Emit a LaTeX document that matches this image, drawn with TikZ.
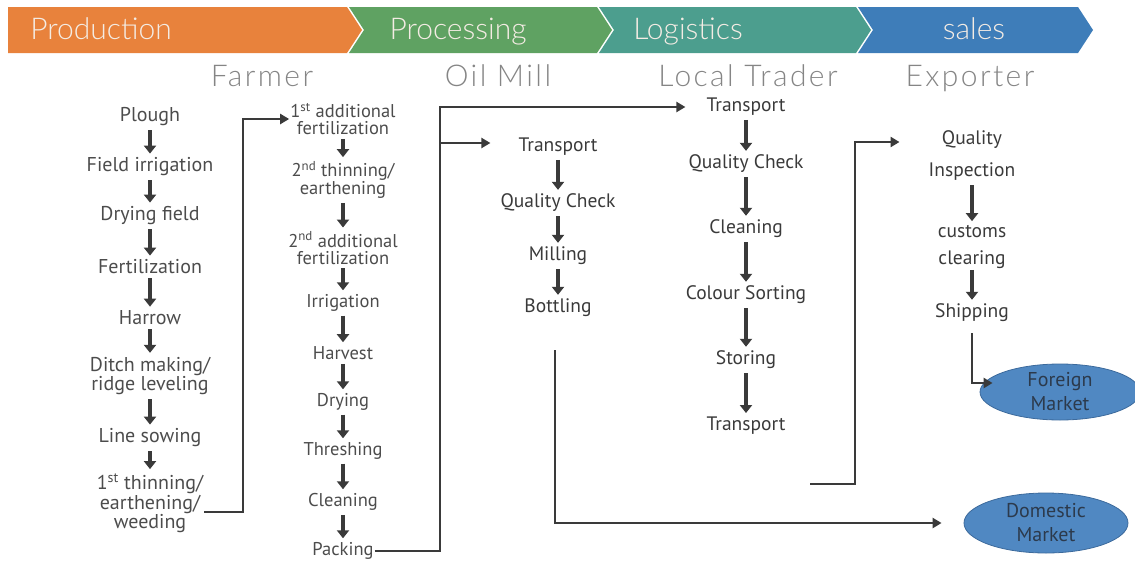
\documentclass[tikz,border=0pt]{standalone}
\usepackage{fontspec}
\setmainfont{PT Sans}
\newfontfamily\headfont{Lato Light}
\newfontfamily\actorfont{Lato Light}[LetterSpace=8]
\usetikzlibrary{arrows.meta,shapes.geometric}
\definecolor{prodorange}{HTML}{E8823C}
\definecolor{procgreen}{HTML}{5FA262}
\definecolor{logteal}{HTML}{4C9E8E}
\definecolor{salesblue}{HTML}{3E7DB9}
\definecolor{bartext}{HTML}{F4ECE4}
\definecolor{actorgray}{HTML}{858585}
\definecolor{ink}{HTML}{3A3A3A}
\definecolor{farmink}{HTML}{4C4C4C}
\definecolor{marketfill}{HTML}{5088C2}
\definecolor{marketedge}{HTML}{3C6A9C}
\definecolor{markettext}{HTML}{2C3A4C}

\begin{document}
\begin{tikzpicture}[x=1pt,y=-1pt,
  stagelabel/.style={text=bartext, inner sep=0pt, anchor=base, font=\headfont\fontsize{30}{32}\selectfont},
  actor/.style={text=actorgray, inner sep=0pt, anchor=base, font=\actorfont\fontsize{30}{32}\selectfont},
  farmstep/.style={text=farmink, align=center, inner sep=1pt, font=\fontsize{20}{15.5}\selectfont},
  cropstep/.style={text=farmink, align=center, inner sep=1pt, font=\fontsize{18.5}{17}\selectfont},
  chainstep/.style={text=ink, align=center, inner sep=1pt, font=\fontsize{19.5}{19}\selectfont},
  varrow/.style={-{Triangle[length=8pt,width=12pt]}, line width=3.4pt, draw=ink, shorten <=3pt, shorten >=3pt},
  conn/.style={-{Triangle[length=9pt,width=10pt]}, line width=2.6pt, draw=ink},
  market/.style={ellipse, fill=marketfill, draw=marketedge, line width=0.8pt, inner sep=0pt,
    text=markettext, align=center, font=\fontsize{20}{24}\selectfont}
]
\useasboundingbox (0,0) rectangle (1135,565);

% stage bar
\fill[prodorange] (8,7) -- (347,7) -- (362,30) -- (347,53) -- (8,53) -- cycle;
\fill[procgreen] (349,7) -- (597,7) -- (612,30) -- (597,53) -- (349,53) -- (364,30) -- cycle;
\fill[logteal] (599,7) -- (856,7) -- (871,30) -- (856,53) -- (599,53) -- (614,30) -- cycle;
\fill[salesblue] (858,7) -- (1078,7) -- (1093,30) -- (1078,53) -- (858,53) -- (873,30) -- cycle;
\node[stagelabel] (sprod) at (101,39) {Production};
\node[stagelabel] (sproc) at (458,39) {Processing};
\node[stagelabel] (slog) at (688,39) {Logistics};
\node[stagelabel] (ssales) at (974,39) {sales};

% actors
\node[actor] (farmer) at (262,86) {Farmer};
\node[actor] (mill) at (498,86) {Oil Mill};
\node[actor] (trader) at (748,86) {Local Trader};
\node[actor] (exporter) at (970,86) {Exporter};

% farmer: field preparation and sowing
\node[farmstep] (f1) at (150,117) {Plough};
\node[farmstep] (f2) at (150,167) {Field irrigation};
\node[farmstep] (f3) at (150,216) {Drying field};
\node[farmstep] (f4) at (150,267) {Fertilization};
\node[farmstep] (f5) at (150,318) {Harrow};
\node[farmstep] (f6) at (150,376) {Ditch making/\\ridge leveling};
\node[farmstep] (f7) at (150,438) {Line sowing};
\node[farmstep] (f8) at (150,503) {1\textsuperscript{st} thinning/\\earthening/\\weeding};
\foreach \a/\b in {f1/f2,f2/f3,f3/f4,f4/f5,f5/f6,f6/f7,f7/f8}
  \draw[varrow] (\a) -- (\b);

% farmer: crop care and harvest
\node[cropstep] (c1) at (343,119) {1\textsuperscript{st} additional\\fertilization};
\node[cropstep] (c2) at (343,180) {2\textsuperscript{nd} thinning/\\earthening};
\node[cropstep] (c3) at (343,248) {2\textsuperscript{nd} additional\\fertilization};
\node[cropstep] (c4) at (343,303) {Irrigation};
\node[cropstep] (c5) at (343,353) {Harvest};
\node[cropstep] (c6) at (343,402) {Drying};
\node[cropstep] (c7) at (343,451) {Threshing};
\node[cropstep] (c8) at (343,502) {Cleaning};
\node[cropstep] (c9) at (343,551) {Packing};
\foreach \a/\b in {c1/c2,c2/c3,c3/c4,c4/c5,c5/c6,c6/c7,c7/c8,c8/c9}
  \draw[varrow] (\a) -- (\b);

% oil mill
\node[chainstep] (m1) at (558,147) {Transport};
\node[chainstep] (m2) at (558,203) {Quality Check};
\node[chainstep] (m3) at (558,256) {Milling};
\node[chainstep] (m4) at (558,308) {Bottling};
\foreach \a/\b in {m1/m2,m2/m3,m3/m4}
  \draw[varrow] (\a) -- (\b);

% local trader
\node[chainstep] (t1) at (746,107) {Transport};
\node[chainstep] (t2) at (746,164) {Quality Check};
\node[chainstep] (t3) at (746,229) {Cleaning};
\node[chainstep] (t4) at (746,295) {Colour Sorting};
\node[chainstep] (t5) at (746,360) {Storing};
\node[chainstep] (t6) at (746,426) {Transport};
\foreach \a/\b in {t1/t2,t2/t3,t3/t4,t4/t5,t5/t6}
  \draw[varrow] (\a) -- (\b);

% exporter
\node[chainstep, font=\fontsize{19.5}{32}\selectfont] (e1) at (972,156) {Quality\\Inspection};
\node[chainstep, font=\fontsize{19.5}{27}\selectfont] (e2) at (972,247) {customs\\clearing};
\node[chainstep] (e3) at (972,313) {Shipping};
\draw[varrow] (e1) -- (e2);
\draw[varrow, shorten <=0pt] (e2) -- (e3);

% markets
\node[market, minimum width=160pt, minimum height=56pt] (foreign) at (1060,392) {Foreign\\Market};
\node[market, minimum width=164pt, minimum height=60pt] (domestic) at (1046,523) {Domestic\\Market};

% hand-overs between actors
\draw[conn] ([yshift=-9pt]f8.east) -| (243,300) |- (c1.west);
\coordinate (split) at (440,143);
\draw[conn, shorten >=20pt] (c9.east) -| (440,300) |- (t1.west);
\draw[conn, shorten >=27pt] (split) -- (split -| m1.west);
\coordinate (millout) at (555,350);
\draw[conn, shorten >=22pt] (millout) |- (domestic.west);
\coordinate (traderout) at (810,484);
\draw[conn, shorten >=28pt] (traderout) -| (855,300) |- ([yshift=14pt]e1.west);
\draw[conn, shorten <=10pt, shorten >=-13pt] (e3.south) |- ([yshift=9pt]foreign.west);
\end{tikzpicture}
\end{document}
